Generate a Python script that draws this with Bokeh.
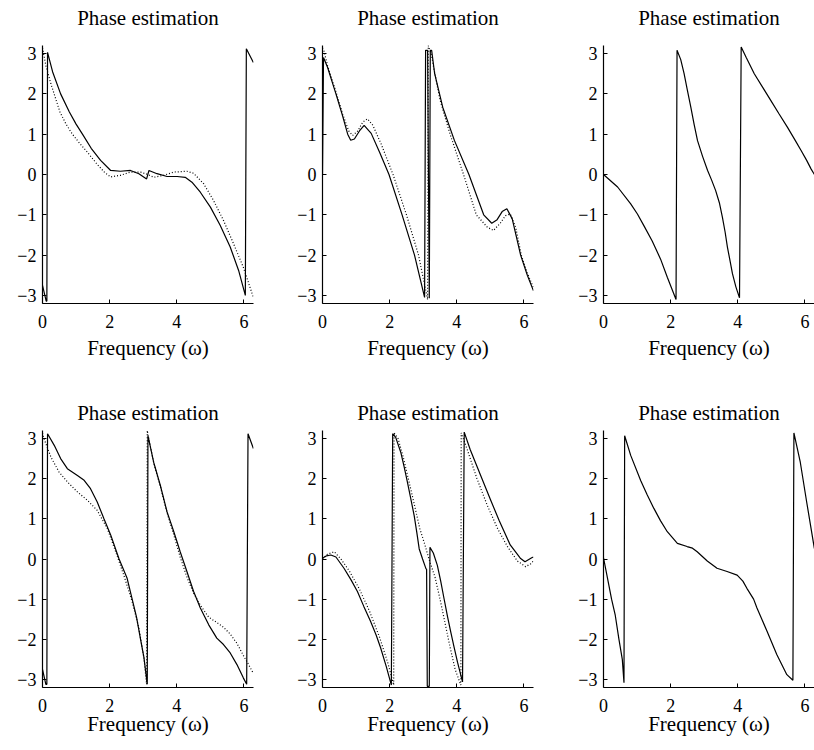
import math
from bokeh.plotting import figure
from bokeh.layouts import column, row
from bokeh.models import FixedTicker, Range1d, Title
from bokeh.embed import file_html
from bokeh.resources import INLINE

TITLE = "Phase estimation"
XLABEL = "Frequency (\u03c9)"
x_ticks = [0, 2, 4, 6]
y_ticks = [-3, -2, -1, 0, 1, 2, 3]
y_tick_labels = {-3: "\u22123", -2: "\u22122", -1: "\u22121", 0: "0", 1: "1", 2: "2", 3: "3"}

# ---- panel 1 (top left)
p1_solid_x = [0.0, 0.11, 0.13, 0.15, 0.30, 0.54, 0.80, 1.00, 1.19, 1.45, 1.73, 2.03, 2.32, 2.62, 2.87, 3.10, 3.17, 3.41, 3.71, 4.01, 4.25, 4.45, 4.70, 5.00, 5.29, 5.59, 5.84, 6.04, 6.07, 6.28]
p1_solid_y = [-2.75, -3.14, -3.14, 3.03, 2.55, 2.00, 1.55, 1.25, 1.00, 0.65, 0.35, 0.10, 0.08, 0.10, 0.02, -0.11, 0.10, 0.02, -0.05, -0.05, -0.07, -0.19, -0.44, -0.81, -1.26, -1.80, -2.38, -3.00, 3.12, 2.78]
p1_dot_x = [0.0, 0.10, 0.25, 0.52, 0.70, 0.89, 1.10, 1.34, 1.60, 1.85, 2.03, 2.32, 2.62, 2.92, 3.14, 3.31, 3.61, 3.91, 4.30, 4.50, 4.80, 5.09, 5.39, 5.69, 5.98, 6.28]
p1_dot_y = [3.14, 2.70, 2.25, 1.55, 1.25, 1.00, 0.78, 0.55, 0.28, 0.05, -0.06, -0.02, 0.06, 0.06, 0.00, -0.07, -0.02, 0.06, 0.08, 0.03, -0.23, -0.64, -1.14, -1.72, -2.30, -3.05]

# ---- panel 2 (top middle)
p2_solid_x = [0.0, 0.03, 0.15, 0.40, 0.60, 0.75, 0.84, 0.95, 1.10, 1.24, 1.45, 1.70, 1.98, 2.37, 2.74, 3.04, 3.07, 3.13, 3.18, 3.21, 3.25, 3.34, 3.58, 3.93, 4.36, 4.80, 5.04, 5.20, 5.35, 5.49, 5.65, 5.90, 6.10, 6.28]
p2_solid_y = [0.0, 2.90, 2.66, 2.00, 1.45, 1.00, 0.85, 0.88, 1.08, 1.22, 1.02, 0.55, 0.00, -1.00, -2.00, -3.05, 3.08, 3.08, -3.07, 3.08, 3.08, 2.50, 1.67, 0.84, 0.00, -1.00, -1.21, -1.12, -0.92, -0.85, -1.10, -2.00, -2.50, -2.88]
p2_dot_x = [0.0, 0.05, 0.15, 0.40, 0.60, 0.78, 0.90, 1.05, 1.20, 1.34, 1.50, 1.75, 2.10, 2.50, 2.86, 3.13, 3.15, 3.25, 3.30, 3.50, 3.80, 4.20, 4.58, 4.90, 5.09, 5.30, 5.45, 5.59, 5.75, 5.92, 6.10, 6.28]
p2_dot_y = [3.14, 3.05, 2.70, 2.05, 1.50, 1.08, 0.97, 1.08, 1.30, 1.38, 1.22, 0.75, 0.00, -1.00, -2.00, -3.10, 3.20, 2.95, 2.70, 1.85, 1.00, 0.00, -1.00, -1.30, -1.39, -1.20, -1.02, -0.98, -1.30, -2.00, -2.45, -2.80]

# ---- panel 3 (top right)
p3_solid_x = [0.0, 0.42, 0.81, 1.01, 1.21, 1.45, 1.70, 1.90, 2.16, 2.19, 2.30, 2.40, 2.50, 2.60, 2.70, 2.80, 2.95, 3.10, 3.22, 3.34, 3.45, 3.54, 3.62, 3.69, 3.77, 3.84, 3.94, 4.05, 4.10, 4.25, 4.49, 4.75, 4.98, 5.23, 5.48, 5.70, 5.88, 6.05, 6.18, 6.28]
p3_solid_y = [0.0, -0.31, -0.73, -0.98, -1.28, -1.65, -2.10, -2.55, -3.10, 3.08, 2.85, 2.50, 2.08, 1.67, 1.24, 0.84, 0.45, 0.10, -0.14, -0.40, -0.70, -1.06, -1.42, -1.80, -2.15, -2.46, -2.78, -3.06, 3.16, 2.90, 2.50, 2.15, 1.84, 1.50, 1.17, 0.86, 0.60, 0.35, 0.14, 0.00]

# ---- panel 4 (bottom left)
p4_solid_x = [0.0, 0.10, 0.13, 0.15, 0.35, 0.54, 0.74, 1.04, 1.24, 1.43, 1.63, 1.83, 2.03, 2.28, 2.52, 2.67, 2.80, 2.92, 3.02, 3.12, 3.14, 3.31, 3.51, 3.71, 3.91, 4.10, 4.30, 4.50, 4.70, 4.95, 5.19, 5.39, 5.59, 5.79, 5.98, 6.08, 6.12, 6.28]
p4_solid_y = [-2.75, -3.12, -3.12, 3.12, 2.83, 2.50, 2.25, 2.08, 1.96, 1.75, 1.42, 1.00, 0.60, 0.00, -0.48, -1.00, -1.45, -2.00, -2.45, -3.12, 3.07, 2.41, 1.83, 1.17, 0.68, 0.18, -0.31, -0.81, -1.22, -1.64, -1.97, -2.13, -2.34, -2.63, -2.96, -3.12, 3.12, 2.75]
p4_dot_x = [0.0, 0.03, 0.25, 0.49, 0.74, 1.04, 1.34, 1.63, 1.93, 2.18, 2.42, 2.67, 2.87, 3.02, 3.10, 3.12, 3.14, 3.31, 3.51, 3.71, 3.91, 4.10, 4.30, 4.50, 4.70, 4.95, 5.19, 5.39, 5.59, 5.79, 5.98, 6.15, 6.28]
p4_dot_y = [3.14, 3.03, 2.54, 2.17, 1.92, 1.67, 1.46, 1.21, 0.76, 0.18, -0.40, -1.06, -1.72, -2.46, -3.12, 3.20, 3.10, 2.40, 1.80, 1.15, 0.60, 0.05, -0.45, -0.85, -1.15, -1.45, -1.58, -1.70, -1.87, -2.10, -2.40, -2.65, -2.85]

# ---- panel 5 (bottom middle)
p5_solid_x = [0.0, 0.12, 0.25, 0.40, 0.64, 0.85, 1.04, 1.23, 1.43, 1.60, 1.73, 1.90, 2.05, 2.09, 2.18, 2.33, 2.43, 2.53, 2.63, 2.73, 2.81, 2.88, 2.98, 3.08, 3.10, 3.12, 3.18, 3.20, 3.30, 3.42, 3.52, 3.62, 3.72, 3.82, 3.92, 4.02, 4.17, 4.22, 4.40, 4.71, 5.00, 5.26, 5.59, 5.89, 6.03, 6.23, 6.28]
p5_solid_y = [0.02, 0.08, 0.10, 0.05, -0.23, -0.52, -0.81, -1.18, -1.55, -1.90, -2.21, -2.68, -3.14, 3.12, 3.03, 2.66, 2.30, 1.91, 1.50, 1.08, 0.65, 0.25, 0.00, -0.24, -0.26, -3.17, -3.17, 0.29, 0.15, -0.16, -0.55, -0.99, -1.42, -1.82, -2.20, -2.57, -3.06, 3.16, 2.72, 2.08, 1.48, 0.96, 0.35, 0.02, -0.07, 0.03, 0.05]
p5_dot_x = [0.0, 0.15, 0.35, 0.55, 0.80, 1.10, 1.40, 1.70, 1.95, 2.12, 2.13, 2.25, 2.40, 2.57, 2.75, 2.90, 3.05, 3.17, 3.35, 3.50, 3.65, 3.80, 3.95, 4.12, 4.13, 4.30, 4.60, 4.90, 5.20, 5.50, 5.80, 6.05, 6.20, 6.28]
p5_dot_y = [0.00, 0.12, 0.18, 0.00, -0.30, -0.75, -1.30, -1.95, -2.60, -3.14, 3.14, 3.00, 2.55, 1.95, 1.30, 0.75, 0.35, 0.00, -0.45, -1.00, -1.60, -2.20, -2.75, -3.14, 3.14, 2.75, 2.00, 1.35, 0.78, 0.32, -0.05, -0.19, -0.12, -0.05]

# ---- panel 6 (bottom right)
p6_solid_x = [0.0, 0.12, 0.24, 0.35, 0.46, 0.56, 0.61, 0.63, 0.81, 1.11, 1.30, 1.50, 1.70, 1.90, 2.20, 2.49, 2.65, 2.79, 3.09, 3.38, 3.68, 3.98, 4.15, 4.27, 4.47, 4.57, 4.87, 5.16, 5.46, 5.64, 5.67, 5.86, 6.05, 6.28]
p6_solid_y = [0.03, -0.48, -1.00, -1.40, -2.00, -2.50, -3.08, 3.07, 2.58, 1.95, 1.60, 1.26, 0.95, 0.68, 0.39, 0.31, 0.27, 0.18, -0.05, -0.23, -0.31, -0.40, -0.55, -0.73, -1.00, -1.22, -1.80, -2.38, -2.88, -3.02, 3.14, 2.41, 1.42, 0.26]

FONT = "Liberation Serif"


def make(sx, sy, dx, dy, left, fw, right, top, bottom, fh, gap, label_standoff):
    p = figure(frame_width=fw, frame_height=fh,
               min_border_left=left, min_border_right=right,
               min_border_top=top, min_border_bottom=bottom,
               x_range=Range1d(0, 2 * math.pi), y_range=Range1d(-3.2, 3.2),
               output_backend="svg", toolbar_location=None, title=None)
    p.outline_line_color = None
    p.background_fill_color = "white"
    p.border_fill_color = "white"
    p.xgrid.visible = False
    p.ygrid.visible = False
    # small spacer between the frame and the title
    p.add_layout(Title(text=" ", text_font_size="1px", standoff=gap), "above")
    p.add_layout(Title(text=TITLE, text_font=FONT, text_font_size="21px",
                       text_font_style="normal", text_color="black",
                       align="center", standoff=2), "above")
    for ax in (p.xaxis[0], p.yaxis[0]):
        ax.axis_line_color = "black"
        ax.axis_line_width = 1.2
        ax.major_tick_in = 4
        ax.major_tick_out = 0
        ax.major_tick_line_color = "black"
        ax.minor_tick_line_color = None
        ax.major_label_text_font = FONT
        ax.major_label_text_font_size = "18px"
        ax.major_label_text_color = "black"
    p.xaxis.ticker = FixedTicker(ticks=x_ticks)
    p.yaxis.ticker = FixedTicker(ticks=y_ticks)
    p.yaxis.major_label_overrides = {float(k): v for k, v in y_tick_labels.items()}
    p.xaxis.major_label_standoff = 11
    p.yaxis.major_label_standoff = 6
    p.xaxis.axis_label = XLABEL
    p.xaxis.axis_label_text_font = FONT
    p.xaxis.axis_label_text_font_size = "21px"
    p.xaxis.axis_label_text_font_style = "normal"
    p.xaxis.axis_label_text_color = "black"
    p.xaxis.axis_label_standoff = label_standoff
    if dx is not None:
        p.line(dx, dy, line_color="black", line_width=1.2, line_dash="1 2")
    p.line(sx, sy, line_color="black", line_width=1.2)
    return p


# row 1: frames at y 45..303 ; row 2: frames at y 430..687
f1 = make(p1_solid_x, p1_solid_y, p1_dot_x, p1_dot_y, 42, 211, 35, 45, 90, 258, 12, 5)
f2 = make(p2_solid_x, p2_solid_y, p2_dot_x, p2_dot_y, 34, 211, 35, 45, 90, 258, 12, 5)
f3 = make(p3_solid_x, p3_solid_y, None, None, 35, 211, 0, 45, 90, 258, 12, 5)
f4 = make(p4_solid_x, p4_solid_y, p4_dot_x, p4_dot_y, 42, 211, 35, 37, 50, 257, 2, -3)
f5 = make(p5_solid_x, p5_solid_y, p5_dot_x, p5_dot_y, 34, 211, 35, 37, 50, 257, 2, -3)
f6 = make(p6_solid_x, p6_solid_y, None, None, 35, 211, 0, 37, 50, 257, 2, -3)

layout = column(row(f1, f2, f3), row(f4, f5, f6))
open("out.html", "w").write(file_html(layout, INLINE))
